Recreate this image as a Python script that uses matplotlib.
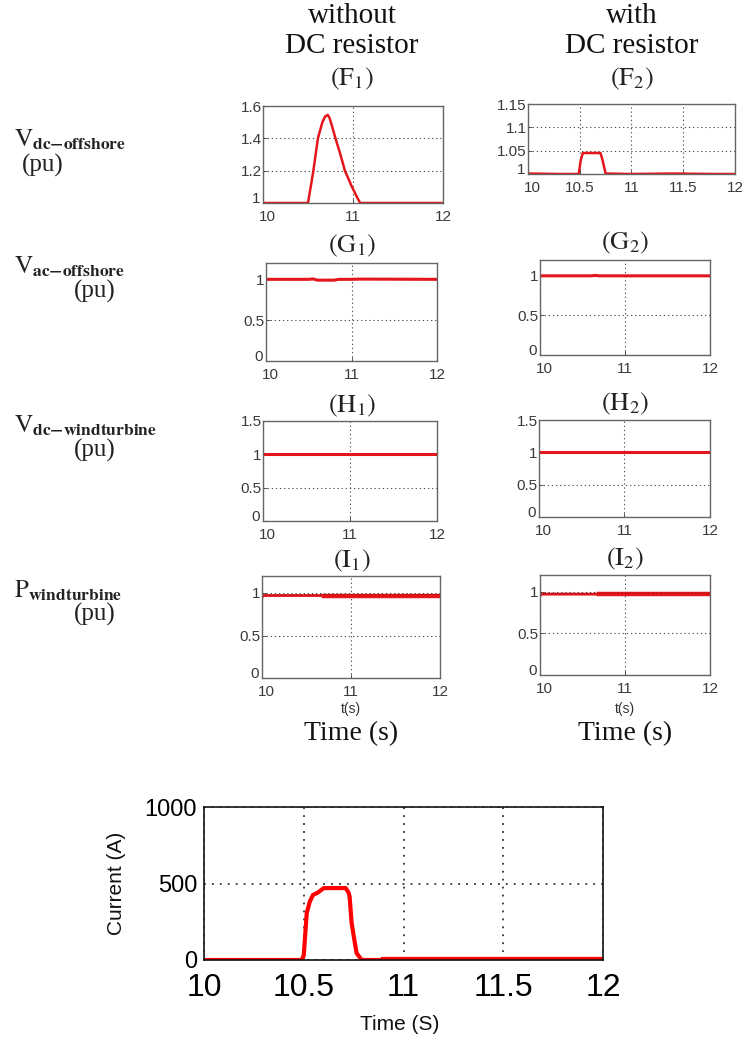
import matplotlib
matplotlib.use("Agg")
import matplotlib.pyplot as plt
from matplotlib.transforms import ScaledTranslation
import numpy as np

plt.rcParams['mathtext.fontset'] = 'stix'

W, H = 742, 1043
fig = plt.figure(figsize=(W/100, H/100), dpi=100)
fig.patch.set_facecolor('white')

RED = '#e4161b'

# ---- data ----
f1_t = [10, 10.5, 10.53, 10.56, 10.61, 10.66, 10.69, 10.72, 10.74, 10.77, 10.80, 10.86, 10.91, 10.98, 11.05, 11.08, 12]
f1_v = [1.0, 1.0, 1.1, 1.2, 1.4, 1.5, 1.535, 1.545, 1.525, 1.47, 1.41, 1.3, 1.2, 1.11, 1.03, 1.0, 1.0]

f2_t = [10, 10.3, 10.49, 10.51, 10.53, 10.70, 10.72, 10.75, 11.0, 11.4, 11.8, 12]
f2_v = [1.001, 1.0, 1.0, 1.03, 1.045, 1.045, 1.03, 1.001, 1.0, 1.001, 1.0, 1.0]

g1_t = [10, 10.5, 10.55, 10.6, 10.8, 10.85, 11.0, 11.1, 12]
g1_v = [1.0, 1.0, 1.005, 0.99, 0.99, 1.0, 1.0, 1.003, 1.0]

g2_t = [10, 10.6, 10.65, 10.7, 12]
g2_v = [1.0, 1.0, 1.005, 1.0, 1.0]

h_t = [10, 12]
h_v = [1.0, 1.0]

i_t = [10, 10.02, 10.7, 12]
i_v = [0.95, 0.97, 0.97, 0.97]

cur_t = [10, 10.49, 10.5, 10.515, 10.53, 10.546, 10.57, 10.60, 10.71, 10.725, 10.73, 10.74, 10.755, 10.765, 10.79, 12]
cur_a = [0, 0, 30, 307, 380, 425, 440, 470, 470, 440, 412, 242, 120, 45, 0, 0]

col_headers = [("without", "DC resistor"), ("with", "DC resistor")]
row_labels = [("dc-offshore", 14, 140, 22, 165),
              ("ac-offshore", 14, 267, 74, 291),
              ("dc-windturbine", 14, 426, 74, 450),
              ("windturbine", 14, 591, 74, 614)]


def ax_px(l, t, r, b):
    return fig.add_axes([l/W, 1-b/H, (r-l)/W, (b-t)/H])


def ftext(x, y, s, **kw):
    return fig.text(x/W, 1-y/H, s, **kw)


def style(ax, xt, yt, ylim, xlabels=None, ylabels=None):
    ax.set_xlim(10, 12)
    ax.set_ylim(*ylim)
    ax.set_xticks(xt)
    ax.set_yticks(yt)
    if xlabels is not None:
        ax.set_xticklabels(xlabels)
    if ylabels is not None:
        ax.set_yticklabels(ylabels)
    ax.grid(True, linestyle=(0, (1.2, 2.5)), color='#555555', linewidth=0.8)
    ax.tick_params(direction='in', length=3, width=0.6, labelsize=11,
                   colors='#3a3a3a')
    ax.tick_params(axis='x', pad=5)
    ax.tick_params(axis='y', pad=1)
    for s in ax.spines.values():
        s.set_color('#666666')
        s.set_linewidth(1.0)
    for lab in ax.get_xticklabels() + ax.get_yticklabels():
        lab.set_family('Liberation Sans')
    # lift the lowest y label a little, as in the MATLAB-style original
    ylabs = ax.get_yticklabels()
    ylabs[0].set_transform(ylabs[0].get_transform() +
                           ScaledTranslation(-1/72, 4/72, fig.dpi_scale_trans))
    xlabs = ax.get_xticklabels()
    xlabs[0].set_transform(xlabs[0].get_transform() +
                           ScaledTranslation(3/72, 0, fig.dpi_scale_trans))


# F1
ax = ax_px(263, 106, 443, 203)
ax.plot(f1_t, f1_v, color=RED, lw=1.8)
style(ax, [10, 11, 12], [1, 1.2, 1.4, 1.6], (1, 1.6), ['10', '11', '12'], ['1', '1.2', '1.4', '1.6'])

# F2
ax = ax_px(528, 104, 735, 174)
ax.plot(f2_t, f2_v, color=RED, lw=1.8)
style(ax, [10, 10.5, 11, 11.5, 12], [1, 1.05, 1.1, 1.15], (1, 1.15),
      ['10', '10.5', '11', '11.5', '12'], ['1', '1.05', '1.1', '1.15'])

# G1, G2
for box, t, v in [((266, 263, 437, 361), g1_t, g1_v), ((540, 260, 710, 355), g2_t, g2_v)]:
    ax = ax_px(*box)
    ax.plot(t, v, color=RED, lw=2.2)
    style(ax, [10, 11, 12], [0, 0.5, 1], (0, 1.2), ['10', '11', '12'], ['0', '0.5', '1'])

# H1, H2
for box in [(263, 421, 437, 521), (539, 420, 710, 517)]:
    ax = ax_px(*box)
    ax.plot(h_t, h_v, color=RED, lw=2.2)
    style(ax, [10, 11, 12], [0, 0.5, 1, 1.5], (0, 1.5), ['10', '11', '12'], ['0', '0.5', '1', '1.5'])

# I1, I2
for box in [(262, 576, 440, 678), (540, 575, 710, 675)]:
    ax = ax_px(*box)
    ax.plot(i_t, i_v, color=RED, lw=2.0)
    ax.plot([t for t in i_t if t >= 10.7], [v for t, v in zip(i_t, i_v) if t >= 10.7],
            color=RED, lw=3.2)
    ax.plot(i_t, [v + 0.01 for v in i_v], color='#a01010', lw=0.7, linestyle=(0, (2, 2)))
    style(ax, [10, 11, 12], [0, 0.5, 1], (0, 1.2), ['10', '11', '12'], ['0', '0.5', '1'])
    cx = (box[0] + box[2]) / 2
    ftext(cx, 709, 't(s)', ha='center', va='center', fontsize=10,
          family='Liberation Sans', color='#333333')
    ftext(cx, 734, 'Time (s)', ha='center', va='center', fontsize=20,
          family='Liberation Serif', color='#111111')

# column headers
for cx, (a, b) in zip([352, 632], col_headers):
    ftext(cx, 16, a, ha='center', va='center', fontsize=21, family='Liberation Serif', color='#111111')
    ftext(cx, 46, b, ha='center', va='center', fontsize=21, family='Liberation Serif', color='#111111')

# panel labels
for s, x, y in [('F', 352, 79), ('F', 632, 79), ('G', 352, 246), ('G', 625, 243),
                ('H', 352, 406), ('H', 625, 404), ('I', 352, 561), ('I', 625, 559)]:
    idx = '1' if x < 500 else '2'
    ftext(x, y, r'$(\mathrm{%s}_{%s})$' % (s, idx), ha='center', va='center',
          fontsize=19, color='#222222')

# row labels
for i, (sub, vx, vy, px, py) in enumerate(row_labels):
    base = 'P' if i == 3 else 'V'
    ftext(vx, vy, r'$\mathrm{%s}_{\mathbf{%s}}$' % (base, sub.replace('-', '{-}')), ha='left', va='center',
          fontsize=18, color='#222222')
    ftext(px, py, '(pu)', ha='left', va='center', fontsize=18,
          family='Liberation Serif', color='#222222')

# bottom current plot
ax = ax_px(204, 807, 603, 960)
ax.plot(cur_t, cur_a, color='#ff0000', lw=3.0, solid_joinstyle='round')
ax.plot([10.9, 12], [0, 0], color='#ff0000', lw=4.5)
ax.set_xlim(10, 12)
ax.set_ylim(0, 1000)
ax.set_xticks([10, 10.5, 11, 11.5, 12])
ax.set_xticklabels(['10', '10.5', '11', '11.5', '12'])
ax.set_yticks([0, 500, 1000])
ax.set_yticklabels(['0', '500', '1000'])
ax.grid(True, linestyle=(0, (1.2, 4)), color='#111111', linewidth=1.1)
ax.tick_params(direction='in', length=0)
ax.tick_params(axis='x', pad=9)
ax.tick_params(axis='y', pad=5)
for lab in ax.get_xticklabels():
    lab.set_fontsize(23)
    lab.set_family('Liberation Sans')
for lab in ax.get_yticklabels():
    lab.set_fontsize(17)
    lab.set_family('Liberation Sans')
for s in ax.spines.values():
    s.set_color('#111111')
    s.set_linewidth(1.2)
ftext(116, 883, 'Current (A)', rotation=90, ha='center', va='center', fontsize=15,
      family='Liberation Sans', color='#111111')
ftext(400, 1025, 'Time (S)', ha='center', va='center', fontsize=15,
      family='Liberation Sans', color='#111111')

fig.savefig('out.png', dpi=100, facecolor='white')
